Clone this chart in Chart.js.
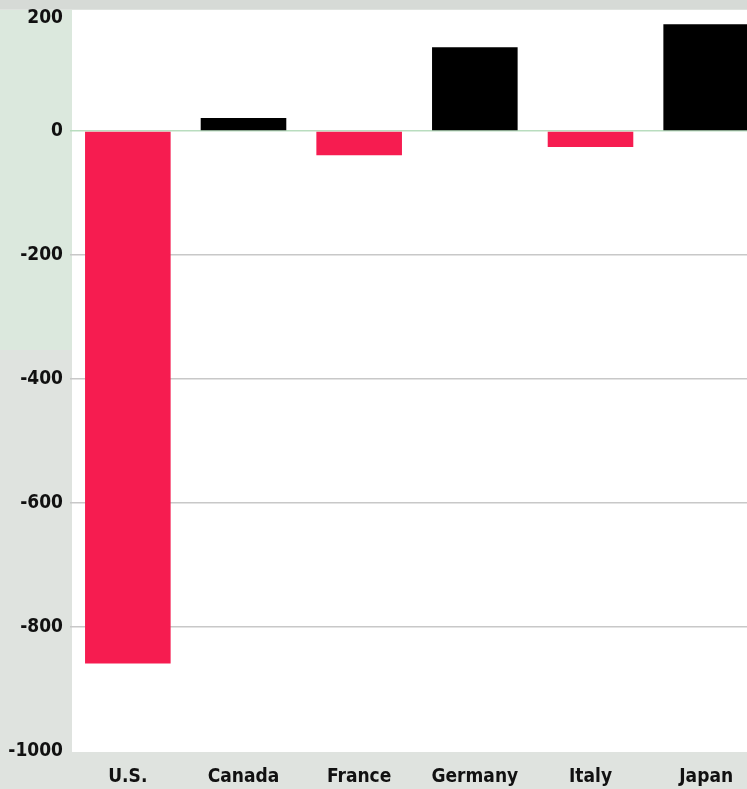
<!DOCTYPE html>
<html>
<head>
<meta charset="utf-8">
<script src="https://cdn.jsdelivr.net/npm/chart.js@4/dist/chart.umd.min.js"></script>
<style>
  html, body { margin: 0; padding: 0; overflow: hidden; background: #dfe3df; }
  #wrap { position: relative; width: 764px; height: 789px; }
</style>
</head>
<body>
<div id="wrap"><canvas id="c"></canvas></div>
<script>
// Current-account balance by country
const categories = ['U.S.', 'Canada', 'France', 'Germany', 'Italy', 'Japan'];
const balances = [-859, 21, -39, 135, -26, 172];
const yTicks = [200, 0, -200, -400, -600, -800, -1000];

const RED = '#f61c50';
const BLACK = '#000000';
const FONT = '"DejaVu Sans Condensed", "Liberation Sans Narrow", "DejaVu Sans", sans-serif';

// Panel backgrounds: tinted frame, white plotting field
const panelBackground = {
  id: 'panelBackground',
  beforeDraw(chart) {
    const { ctx, chartArea: a, width, height } = chart;
    ctx.save();
    ctx.fillStyle = '#dfe3df';
    ctx.fillRect(0, 0, width, height);
    ctx.fillStyle = '#dbe8dd';
    ctx.fillRect(0, 10, a.left + 2, 340);
    ctx.fillStyle = '#d6dad6';
    ctx.fillRect(0, 0, width, 9);
    ctx.fillStyle = '#ffffff';
    ctx.fillRect(a.left + 2, 10, a.right - a.left, a.bottom - 9);
    ctx.restore();
  }
};

new Chart(document.getElementById('c'), {
  type: 'bar',
  data: {
    labels: categories,
    datasets: [{
      data: balances,
      backgroundColor: balances.map(v => v < 0 ? RED : BLACK),
      borderWidth: 0,
      barPercentage: 0.74,
      categoryPercentage: 1.0
    }]
  },
  options: {
    responsive: true,
    maintainAspectRatio: false,
    animation: false,
    layout: { padding: { top: 7, right: 0, bottom: 0, left: 0 } },
    plugins: { legend: { display: false }, tooltip: { enabled: false } },
    scales: {
      x: {
        grid: { display: false },
        border: { display: false },
        ticks: {
          color: '#111',
          padding: 7,
          font: { family: FONT, size: 19, weight: 'bold' }
        },
        afterFit(scale) { scale.height = 38; }
      },
      y: {
        min: -1000,
        max: 200,
        afterBuildTicks(scale) { scale.ticks = yTicks.map(v => ({ value: v })); },
        grid: {
          drawTicks: false,
          lineWidth: ctx => (ctx.tick && (ctx.tick.value === -1000 || ctx.tick.value === 200)) ? 0 : 1.5,
          color: ctx => (ctx.tick && ctx.tick.value === 0) ? '#b9ddbf' : '#c8c8c8'
        },
        border: { display: false },
        ticks: {
          color: '#111',
          padding: 7,
          font: { family: FONT, size: 19, weight: 'bold' },
          callback: v => v === 200 ? ['', '200'] : String(v)
        },
        afterFit(scale) {
          scale.width = 70;
          scale.paddingTop = 0;
          scale.paddingBottom = 0;
        }
      }
    }
  },
  plugins: [panelBackground]
});
</script>
</body>
</html>
